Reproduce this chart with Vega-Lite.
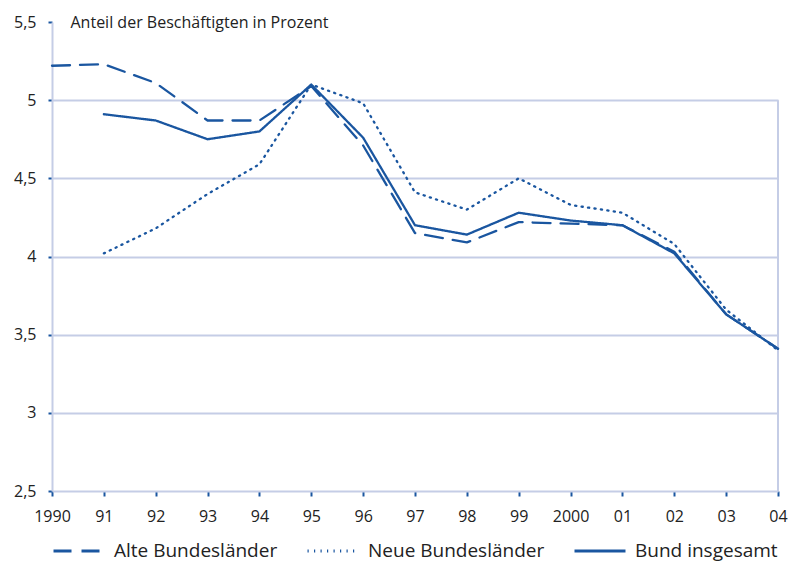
{
  "$schema": "https://vega.github.io/schema/vega-lite/v6.json",
  "width": 726,
  "height": 469,
  "autosize": {"type": "none"},
  "padding": {"left": 52, "top": 22, "right": 12, "bottom": 72},
  "background": "white",
  "config": {
    "view": {"stroke": null},
    "font": "Open Sans"
  },
  "datasets": {
    "werte": [
      {"jahr": 1990, "serie": "Alte Bundesländer", "wert": 5.22},
      {"jahr": 1991, "serie": "Alte Bundesländer", "wert": 5.23},
      {"jahr": 1992, "serie": "Alte Bundesländer", "wert": 5.11},
      {"jahr": 1993, "serie": "Alte Bundesländer", "wert": 4.87},
      {"jahr": 1994, "serie": "Alte Bundesländer", "wert": 4.87},
      {"jahr": 1995, "serie": "Alte Bundesländer", "wert": 5.09},
      {"jahr": 1996, "serie": "Alte Bundesländer", "wert": 4.71},
      {"jahr": 1997, "serie": "Alte Bundesländer", "wert": 4.15},
      {"jahr": 1998, "serie": "Alte Bundesländer", "wert": 4.09},
      {"jahr": 1999, "serie": "Alte Bundesländer", "wert": 4.22},
      {"jahr": 2000, "serie": "Alte Bundesländer", "wert": 4.21},
      {"jahr": 2001, "serie": "Alte Bundesländer", "wert": 4.2},
      {"jahr": 2002, "serie": "Alte Bundesländer", "wert": 4.03},
      {"jahr": 2003, "serie": "Alte Bundesländer", "wert": 3.63},
      {"jahr": 2004, "serie": "Alte Bundesländer", "wert": 3.41},
      {"jahr": 1991, "serie": "Neue Bundesländer", "wert": 4.02},
      {"jahr": 1992, "serie": "Neue Bundesländer", "wert": 4.18},
      {"jahr": 1993, "serie": "Neue Bundesländer", "wert": 4.4},
      {"jahr": 1994, "serie": "Neue Bundesländer", "wert": 4.59},
      {"jahr": 1995, "serie": "Neue Bundesländer", "wert": 5.1},
      {"jahr": 1996, "serie": "Neue Bundesländer", "wert": 4.98},
      {"jahr": 1997, "serie": "Neue Bundesländer", "wert": 4.41},
      {"jahr": 1998, "serie": "Neue Bundesländer", "wert": 4.3},
      {"jahr": 1999, "serie": "Neue Bundesländer", "wert": 4.5},
      {"jahr": 2000, "serie": "Neue Bundesländer", "wert": 4.33},
      {"jahr": 2001, "serie": "Neue Bundesländer", "wert": 4.28},
      {"jahr": 2002, "serie": "Neue Bundesländer", "wert": 4.08},
      {"jahr": 2003, "serie": "Neue Bundesländer", "wert": 3.66},
      {"jahr": 2004, "serie": "Neue Bundesländer", "wert": 3.4},
      {"jahr": 1991, "serie": "Bund insgesamt", "wert": 4.91},
      {"jahr": 1992, "serie": "Bund insgesamt", "wert": 4.87},
      {"jahr": 1993, "serie": "Bund insgesamt", "wert": 4.75},
      {"jahr": 1994, "serie": "Bund insgesamt", "wert": 4.8},
      {"jahr": 1995, "serie": "Bund insgesamt", "wert": 5.1},
      {"jahr": 1996, "serie": "Bund insgesamt", "wert": 4.76},
      {"jahr": 1997, "serie": "Bund insgesamt", "wert": 4.2},
      {"jahr": 1998, "serie": "Bund insgesamt", "wert": 4.14},
      {"jahr": 1999, "serie": "Bund insgesamt", "wert": 4.28},
      {"jahr": 2000, "serie": "Bund insgesamt", "wert": 4.23},
      {"jahr": 2001, "serie": "Bund insgesamt", "wert": 4.2},
      {"jahr": 2002, "serie": "Bund insgesamt", "wert": 4.02},
      {"jahr": 2003, "serie": "Bund insgesamt", "wert": 3.63},
      {"jahr": 2004, "serie": "Bund insgesamt", "wert": 3.41}
    ],
    "rand": [
      {"jahr": 2004, "von": 2.5, "bis": 5}
    ]
  },
  "layer": [
    {
      "data": {"name": "rand"},
      "mark": {"type": "rule", "color": "#c5cde6", "strokeWidth": 2},
      "encoding": {
        "x": {"field": "jahr", "type": "quantitative", "scale": {"domain": [1990, 2004], "nice": false}},
        "y": {"field": "von", "type": "quantitative", "scale": {"domain": [2.5, 5.5], "nice": false}},
        "y2": {"field": "bis"}
      }
    },
    {
      "data": {"name": "werte"},
      "mark": {"type": "line", "color": "#1a56a0", "strokeWidth": 2.3, "strokeCap": "round", "strokeJoin": "round"},
      "encoding": {
        "x": {
          "field": "jahr",
          "type": "quantitative",
          "scale": {"domain": [1990, 2004], "nice": false, "zero": false},
          "axis": {
            "title": null,
            "values": [1990, 1991, 1992, 1993, 1994, 1995, 1996, 1997, 1998, 1999, 2000, 2001, 2002, 2003, 2004],
            "labelExpr": "datum.value == 1990 || datum.value == 2000 ? toString(datum.value) : slice(toString(datum.value), 2)",
            "grid": false,
            "domainColor": "#c5cde6",
            "domainWidth": 2,
            "tickColor": "#1a56a0",
            "tickWidth": 2,
            "tickSize": 5,
            "tickOffset": 0,
            "labelFontSize": 16,
            "labelColor": "#222222",
            "labelPadding": 12,
            "labelFont": "Open Sans",
            "labelFlush": false
          }
        },
        "y": {
          "field": "wert",
          "type": "quantitative",
          "scale": {"domain": [2.5, 5.5], "nice": false, "zero": false},
          "axis": {
            "values": [2.5, 3, 3.5, 4, 4.5, 5, 5.5],
            "labelExpr": "replace(format(datum.value, ''), '.', ',')",
            "title": "Anteil der Beschäftigten in Prozent",
            "titleAngle": 0,
            "titleX": 18,
            "titleY": 0,
            "titleAlign": "left",
            "titleBaseline": "middle",
            "titleFontSize": 16,
            "titleFontWeight": "normal",
            "titleColor": "#222222",
            "titleFont": "Open Sans",
            "grid": true,
            "gridColor": {"condition": {"test": "datum.value == 5.5 || datum.value == 2.5", "value": "transparent"}, "value": "#c5cde6"},
            "gridWidth": 2,
            "domainColor": "#c5cde6",
            "domainWidth": 2,
            "tickColor": "#1a56a0",
            "tickWidth": 2,
            "tickSize": 4,
            "labelFontSize": 16,
            "labelColor": "#222222",
            "labelPadding": 12,
            "labelFont": "Open Sans"
          }
        },
        "strokeDash": {
          "field": "serie",
          "type": "nominal",
          "scale": {
            "domain": ["Alte Bundesländer", "Neue Bundesländer", "Bund insgesamt"],
            "range": [[18, 10], [1.2, 5.3], [1, 0]]
          },
          "legend": {
            "title": null,
            "orient": "none",
            "legendX": 0,
            "legendY": 502,
            "direction": "horizontal",
            "columns": 3,
            "columnPadding": 23,
            "symbolType": "stroke",
            "symbolSize": 2600,
            "symbolStrokeWidth": 2.8,
            "symbolStrokeColor": "#1a56a0",
            "labelFontSize": 19,
            "labelLimit": 400,
            "labelColor": "#222222",
            "labelFont": "Open Sans",
            "labelOffset": 8
          }
        }
      }
    }
  ]
}
